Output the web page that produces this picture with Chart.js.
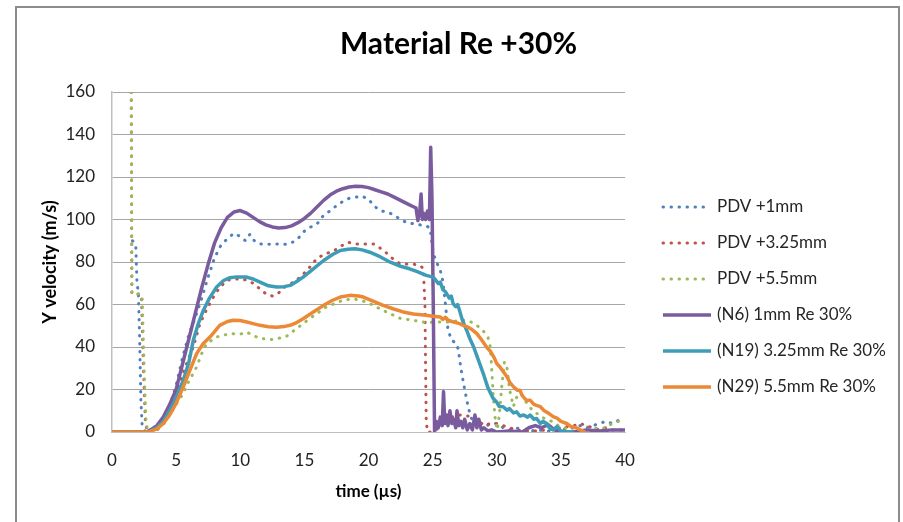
<!DOCTYPE html>
<html>
<head>
<meta charset="utf-8">
<title>Material Re +30%</title>
<script src="https://cdn.jsdelivr.net/npm/chart.js@4.4.4/dist/chart.umd.min.js"></script>
<style>
  html, body { margin: 0; padding: 0; background: #fff; overflow: hidden; }
  #frame { position: absolute; left: 15px; top: 6px; width: 881px; height: 600px; border: 2px solid #8c8c8c; }
  #wrap { position: absolute; left: 0; top: 0; width: 903px; height: 522px; }
</style>
</head>
<body>
<div id="frame"></div>
<div id="wrap"><canvas id="chart"></canvas></div>
<script>
// time in microseconds, velocity in m/s
var xTicks = [0, 5, 10, 15, 20, 25, 30, 35, 40];
var yTicks = [0, 20, 40, 60, 80, 100, 120, 140, 160];

var seriesLabels = ['PDV +1mm', 'PDV +3.25mm', 'PDV +5.5mm',
  '(N6) 1mm Re 30%', '(N19) 3.25mm Re 30%', '(N29) 5.5mm Re 30%'];

var pdv1Time = [1.6, 1.85, 1.95, 2.05, 2.15, 2.25, 2.35, 2.6, 3.0, 3.5, 4.0, 4.5, 5.0, 5.5, 6.0, 6.5, 7.0, 7.5, 8.0, 8.5,
  9.0, 9.5, 10.0, 10.4, 10.75, 11.1, 11.5, 12.0, 12.5, 13.0, 13.5, 14.0, 14.5, 15.0, 15.5, 16.0, 16.5, 17.0, 17.5, 18.0,
  18.5, 19.0, 19.5, 20.0, 20.5, 21.0, 21.5, 22.0, 22.5, 23.0, 23.5, 24.0, 24.5, 24.8, 25.05, 25.3, 25.6, 25.8, 26.0, 26.2,
  26.5, 26.8, 27.0, 27.2, 27.5, 27.8, 28.1, 28.5, 28.8, 29.2, 29.6, 30.0, 30.5, 31.0, 31.5, 32.0, 32.5, 33.0, 34.0, 35.0,
  36.0, 36.5, 37.0, 37.5, 38.0, 38.5, 39.0, 39.5, 40.0];
var pdv1Vel = [90, 88, 70, 66, 45, 15, 3, 0, 0, 1, 5, 12, 22, 35, 46, 54, 63, 73, 82, 88,
  91, 93.5, 92, 90, 93, 90, 88.5, 88.3, 88.5, 88.5, 88.3, 89, 91, 94.5, 96.5, 98, 102, 104, 106.5, 108.5,
  110, 110.5, 111, 109.5, 106, 104, 103.5, 102, 100, 98.5, 98, 97.5, 97, 96, 84, 80, 76, 71, 60, 48,
  43, 42, 39, 30, 20, 11, 5, 2, 1, 3, 4, 4, 2, 1, 2, 1, 0, 1, 0.5, 1,
  2, 3, 2, 3, 4, 5, 4, 5.5, 5];

var pdv325Time = [1.5, 1.55, 2.2, 2.3, 2.45, 2.6, 2.75, 3.0, 3.5, 4.0, 4.5, 5.0, 5.5, 6.0, 6.34, 6.86, 7.4, 7.9, 8.4, 8.94,
  9.5, 10.0, 10.5, 11.0, 11.5, 12.0, 12.5, 13.0, 13.4, 14.0, 14.5, 15.2, 15.96, 16.5, 17.0, 17.5, 18.0, 18.4, 19.0, 19.6,
  20.4, 21.2, 21.8, 22.46, 23.0, 23.5, 24.0, 24.27, 24.4, 24.45, 24.5, 24.6, 25.0, 25.5, 26.0, 26.5, 27.0, 27.5, 28.0, 28.5,
  29.0, 29.5, 30.0, 30.5, 31.0, 31.5, 32.0, 33.0, 34.0, 35.0, 36.0, 36.5, 37.0, 37.5, 38.0, 38.5, 39.0, 40.0];
var pdv325Vel = [160, 65, 65, 64, 30, 5, 0, 0, 1, 4, 9, 17, 27, 35, 40, 51, 58, 63.5, 68, 71.3,
  72, 72, 71.5, 70, 67.5, 65, 64, 65.5, 68, 70, 72, 76, 81.5, 83.5, 84.6, 86, 88, 89.3, 88.5, 88.5,
  88.5, 85.4, 82, 79.2, 79, 79, 78.4, 77, 60, 30, 5, 0, 0, 2, 8, 7, 8, 8, 7, 6,
  3, 4, 4, 3, 2, 1, 0.5, 0.5, 1, 2, 3, 4, 3, 2, 1, 2, 1, 1];

var pdv55Time = [1.5, 1.55, 2.2, 2.35, 2.5, 2.65, 2.8, 3.0, 3.5, 4.0, 4.5, 5.0, 5.56, 6.0, 6.6, 7.0, 7.38, 8.16, 9.2, 9.98,
  10.5, 11.0, 11.54, 12.58, 13.6, 14.4, 15.4, 16.7, 18.0, 18.8, 19.86, 21.15, 22.46, 23.75, 24.5, 25.6, 26.35, 27.2, 27.65, 28.1,
  28.45, 28.95, 29.3, 29.5, 29.6, 29.75, 29.9, 30.05, 30.2, 30.4, 30.6, 30.8, 31.0, 31.3, 31.6, 31.9, 32.3, 32.8, 33.3, 33.8,
  34.3, 34.8, 35.3, 35.8, 36.3, 37.0, 37.5, 38.0, 38.5, 39.0, 39.5, 40.0];
var pdv55Vel = [160, 65, 65, 64, 30, 5, 0, 0, 1, 3.5, 8, 13, 18.2, 24, 30.6, 37, 41.6, 44.7, 46.3, 46,
  47, 45.5, 44, 43.5, 45, 48.7, 53.3, 58.8, 62, 62.7, 61.2, 57.2, 53.5, 52.3, 51.5, 51.8, 51.8, 52.5, 52.6, 51.5,
  50.2, 47.5, 45, 40, 30, 15, 5, 1, 8, 22, 33, 30, 20, 12, 17, 18, 14, 10, 8, 6,
  5, 3, 2, 0.5, 0, 1, 2, 1.5, 2, 4, 5, 6.5];

var n6Time = [0, 2.7, 3.0, 3.5, 4.0, 4.5, 5.0, 5.5, 6.0, 6.5, 7.0, 7.5, 8.0, 8.5, 9.0, 9.5, 10.0, 10.5, 11.0, 11.5,
  12.0, 12.5, 13.0, 13.5, 14.0, 14.5, 15.0, 15.5, 16.0, 16.5, 17.0, 17.5, 18.0, 18.5, 19.0, 19.5, 20.0, 20.5, 21.0, 21.5,
  22.0, 22.5, 23.0, 23.5, 23.7, 23.85, 24.0, 24.1, 24.2, 24.3, 24.45, 24.6, 24.75, 24.85, 24.95, 25.05, 25.15, 25.3, 25.45, 25.6,
  25.75, 25.85, 25.95, 26.1, 26.2, 26.35, 26.5, 26.65, 26.8, 26.9, 27.05, 27.2, 27.35, 27.5, 27.7, 27.9, 28.1, 28.3, 28.45, 28.6,
  28.8, 29.0, 29.3, 29.6, 30.0, 31.0, 32.0, 32.5, 33.0, 33.5, 34.0, 34.5, 35.0, 36.0, 37.0, 38.0, 39.0, 40.0];
var n6Vel = [0, 0, 1, 3, 7, 13, 20, 32, 44, 56, 68, 79, 89, 96, 101, 103.5, 104.2, 103, 101, 99,
  97.5, 96.5, 96, 96.2, 97, 98.5, 100.5, 103, 106, 109, 111.5, 113.3, 114.5, 115.3, 115.6, 115.5, 115, 114, 113, 112,
  110.5, 109, 107.5, 106, 105.5, 99.5, 104, 112, 100, 103, 100, 104, 100, 134, 110, 60, 0, 5, 2, 7,
  3, 19, 4, 8, 3, 10, 4, 6, 2, 10, 3, 5, 2, 6, 1, 4, 1, 8, 2, 6,
  1, 2, 0.5, 1, 0, 0.5, 0, 2, 3, 2, 3.5, 1, 0, 0, 1, 0.5, 1, 1];

var n19Time = [0, 2.7, 3.0, 3.5, 4.0, 4.5, 5.0, 5.56, 6.0, 6.34, 6.7, 7.12, 7.6, 8.16, 8.7, 9.2, 9.72, 10.5, 11.0, 11.54,
  12.2, 12.84, 13.4, 13.9, 14.4, 14.9, 15.7, 16.5, 17.2, 17.8, 18.4, 18.95, 19.5, 20.1, 20.9, 21.7, 22.5, 23.2, 23.8, 24.5,
  25.05, 25.3, 25.45, 25.6, 25.8, 26.0, 26.1, 26.3, 26.45, 26.6, 26.8, 26.95, 27.1, 27.3, 27.5, 27.65, 27.9, 28.2, 28.5, 28.95,
  29.3, 29.7, 30.0, 30.2, 30.5, 30.8, 31.0, 31.3, 31.55, 31.8, 32.1, 32.4, 32.6, 32.9, 33.1, 33.4, 33.6, 33.9, 34.1, 34.4,
  34.7, 35.0, 35.4, 36.0];
var n19Vel = [0, 0, 0.5, 2, 5, 10, 16, 24.4, 33, 43.2, 50.5, 57.2, 63, 68.2, 71.3, 72.6, 73, 72.9, 72, 70.5,
  68.8, 68.2, 68.4, 69, 70.8, 72.9, 76.8, 80.7, 83.5, 85.4, 86, 86.2, 85.7, 84.6, 82.5, 79.9, 78, 76.8, 75.5, 73.7,
  72.9, 71, 69.8, 70.5, 67, 66, 65, 63, 64, 60.4, 59, 60, 57.2, 53, 50, 47.9, 44, 40, 35, 27.5,
  21, 16, 14, 12, 11.9, 10.3, 11, 9, 9.5, 7.5, 8, 7, 8, 6, 6.4, 4, 5, 4, 2, 1,
  2.5, 0.5, 0, 0];

var n29Time = [0, 2.8, 3.0, 3.5, 4.0, 4.5, 5.0, 5.56, 6.0, 6.6, 7.1, 7.64, 8.4, 9.0, 9.46, 10.0, 10.5, 11.0, 11.54, 12.2,
  12.84, 13.4, 13.88, 14.4, 14.9, 15.7, 16.5, 17.2, 17.8, 18.56, 19.2, 19.6, 20.4, 21.15, 21.9, 22.7, 23.5, 24.5, 25.0, 25.6,
  25.8, 26.0, 26.2, 26.5, 26.8, 27.1, 27.4, 27.7, 28.0, 28.45, 28.8, 29.2, 29.5, 29.8, 30.0, 30.25, 30.5, 30.8, 31.0, 31.3,
  31.6, 31.8, 32.0, 32.3, 32.6, 32.9, 33.1, 33.4, 33.7, 34.0, 34.4, 34.7, 35.0, 35.45, 35.8, 36.2, 36.5, 36.9];
var n29Vel = [0, 0, 0.3, 1.5, 4, 8, 13.5, 21.3, 28, 36.9, 41.5, 44.7, 50.2, 52, 52.6, 52.5, 51.8, 51, 50.2, 49.5,
  49.3, 49.6, 50.2, 51.5, 53.3, 56.5, 59.6, 62, 63.5, 64.3, 64, 63.5, 61.5, 59.6, 58, 56.5, 55.5, 54.9, 54.5, 54.1,
  53, 54, 52.6, 52, 51.5, 51, 50.2, 49.5, 48.5, 46.3, 43.5, 40, 38, 35, 32.2, 30.6, 28.5, 26, 23.5, 21.3,
  19.7, 19.7, 17, 15, 15, 13, 12.5, 11.9, 10, 9, 7.2, 6.5, 5, 4, 2.5, 2, 1, 0];

function pts(t, v) {
  return t.map(function (x, i) { return { x: x, y: v[i] }; });
}

var FONT = 'Lato, "Open Sans", sans-serif';
var dotted = [0.5, 7.5];

function pdvSet(i, t, v, color) {
  return {
    label: seriesLabels[i], data: pts(t, v), borderColor: color, backgroundColor: color,
    borderWidth: 3, borderDash: dotted, borderCapStyle: 'round', pointRadius: 0, tension: 0,
    order: 5 - i
  };
}
function simSet(i, t, v, color) {
  return {
    label: seriesLabels[i], data: pts(t, v), borderColor: color, backgroundColor: color,
    borderWidth: 3.5, borderCapStyle: 'butt', borderJoinStyle: 'round', pointRadius: 0, tension: 0,
    order: 5 - i
  };
}

// legend drawn by hand so it sits exactly like the Excel one
var sideLegend = {
  id: 'sideLegend',
  afterDraw: function (chart) {
    var ctx = chart.ctx;
    var x0 = chart.chartArea.right + 38;
    ctx.save();
    chart.data.datasets.forEach(function (ds, i) {
      var y = 207 + i * 36;
      ctx.beginPath();
      ctx.strokeStyle = ds.borderColor;
      ctx.lineWidth = ds.borderWidth;
      ctx.lineCap = ds.borderCapStyle;
      ctx.setLineDash(ds.borderDash || []);
      ctx.moveTo(x0, y);
      ctx.lineTo(x0 + 48, y);
      ctx.stroke();
      ctx.setLineDash([]);
      ctx.fillStyle = '#262626';
      ctx.font = '17px ' + FONT;
      ctx.textBaseline = 'middle';
      ctx.fillText(ds.label, x0 + 54, y);
    });
    ctx.restore();
  }
};

new Chart(document.getElementById('chart'), {
  type: 'line',
  data: {
    datasets: [
      pdvSet(0, pdv1Time, pdv1Vel, '#4f81bd'),
      pdvSet(1, pdv325Time, pdv325Vel, '#c0504d'),
      pdvSet(2, pdv55Time, pdv55Vel, '#9bbb59'),
      simSet(3, n6Time, n6Vel, '#7a5c9e'),
      simSet(4, n19Time, n19Vel, '#3e9db6'),
      simSet(5, n29Time, n29Vel, '#ec8936')
    ]
  },
  options: {
    responsive: true,
    maintainAspectRatio: false,
    animation: false,
    devicePixelRatio: 1,
    layout: { padding: { left: 14, right: 0, top: 0, bottom: 0 } },
    plugins: {
      legend: { display: false },
      tooltip: { enabled: false },
      title: {
        display: true,
        text: 'Material Re +30%',
        color: '#000',
        font: { family: FONT, size: 30, weight: 'bold' },
        padding: { top: 26, bottom: 30 }
      }
    },
    scales: {
      x: {
        type: 'linear',
        min: 0, max: 40,
        afterBuildTicks: function (s) { s.ticks = xTicks.map(function (v) { return { value: v }; }); },
        afterFit: function (s) { s.height = 90; },
        grid: { display: false, drawTicks: false },
        border: { display: true, color: '#bfbfbf', width: 1 },
        ticks: { color: '#222', padding: 18, maxRotation: 0, font: { family: FONT, size: 17 } },
        title: {
          display: true, text: 'time (µs)', color: '#000',
          font: { family: FONT, size: 17, weight: 'bold' },
          padding: { top: 0, bottom: 20 }
        }
      },
      y: {
        min: 0, max: 160,
        afterBuildTicks: function (s) { s.ticks = yTicks.map(function (v) { return { value: v }; }); },
        afterFit: function (s) { s.width = 98; },
        grid: { color: '#a6a6a6', lineWidth: 1, drawTicks: false },
        border: { display: true, color: '#bfbfbf', width: 1.5 },
        ticks: { color: '#222', padding: 17, font: { family: FONT, size: 17 } },
        title: {
          display: true, text: 'Y velocity (m/s)', color: '#000',
          font: { family: FONT, size: 18, weight: 'bold' },
          padding: { top: 25, bottom: 0 }
        }
      },
      // empty right-hand box that reserves the legend column
      side: {
        position: 'right',
        axis: 'y',
        min: 0, max: 1,
        afterFit: function (s) { s.width = 278; },
        grid: { display: false, drawTicks: false },
        border: { display: false },
        ticks: { display: false }
      }
    }
  },
  plugins: [sideLegend]
});
</script>
</body>
</html>
